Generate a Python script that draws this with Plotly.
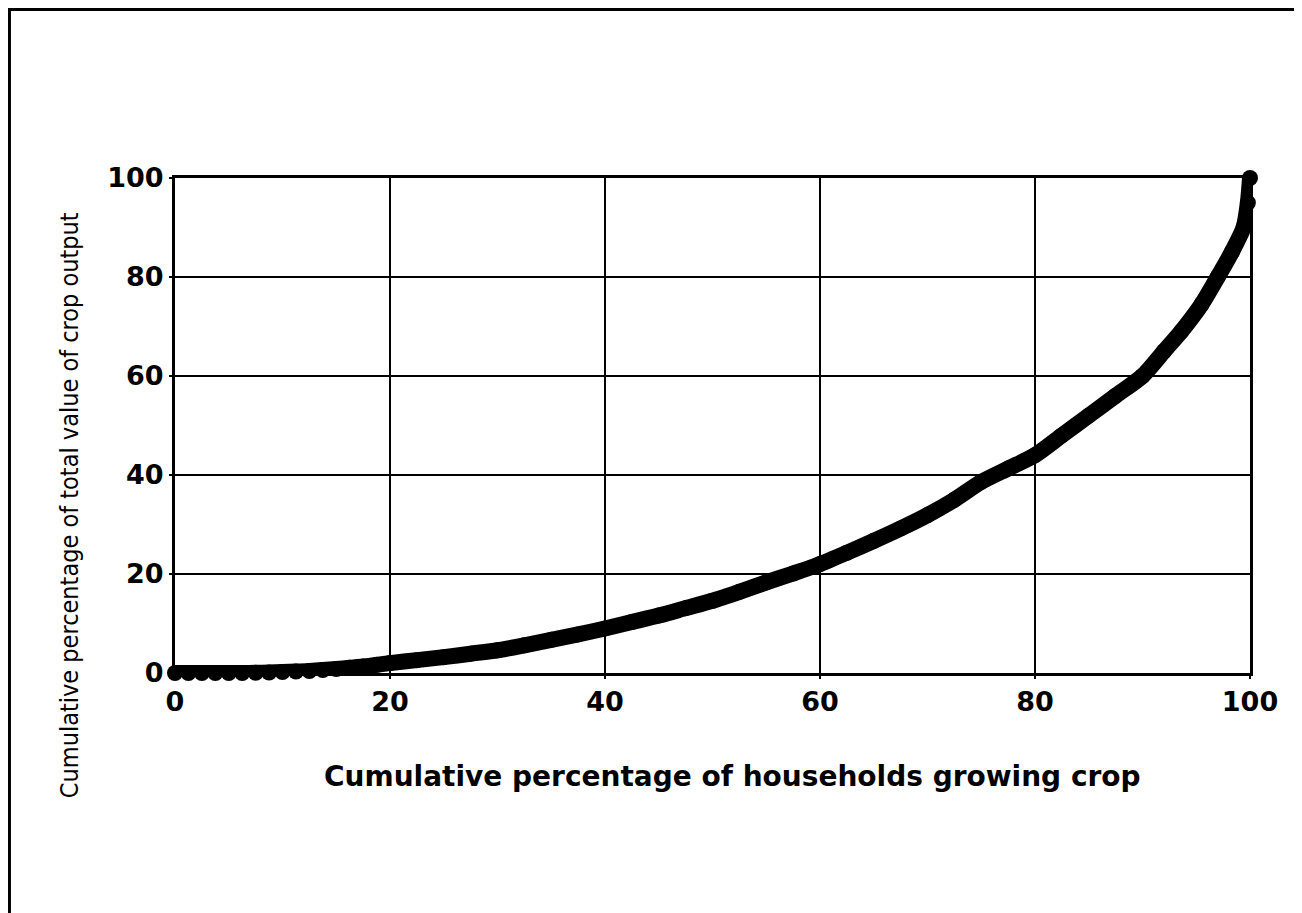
import plotly.graph_objects as go

# Lorenz curve: cumulative % of households vs cumulative % of crop output value
households_pct = [0, 1.25, 2.5, 3.75, 5, 6.25, 7.5, 8.75, 10, 11.25, 12.5,
                  13.75, 15, 16.25, 17.5, 18.75, 20, 22.5, 25, 27.5, 30,
                  32.5, 35, 37.5, 40, 42.5, 45, 47.5, 50, 52.5, 55, 57.5, 60,
                  62.5, 65, 67.5, 70, 72.5, 75, 77.5, 80, 82.5, 85, 87.5, 90,
                  92, 93.6, 95.5, 97, 98.3, 99.4, 99.8, 100]
output_pct = [0, 0, 0, 0, 0, 0, 0.05, 0.1, 0.2, 0.3, 0.4,
              0.6, 0.8, 1.05, 1.3, 1.65, 2.0, 2.6, 3.2, 3.9, 4.6,
              5.6, 6.7, 7.8, 9.0, 10.3, 11.6, 13.1, 14.6, 16.4, 18.3, 20.1, 22.0,
              24.3, 26.7, 29.2, 31.9, 35.0, 38.6, 41.3, 44.0, 48.0, 52.0, 56.0, 60.0,
              65.0, 69.0, 74.5, 80.0, 85.0, 90.0, 95.0, 100.0]

tick_vals = [0, 20, 40, 60, 80, 100]
tick_text = ["0", "20", "40", "60", "80", "100"]

x_title = "Cumulative percentage of households growing crop"
y_title = "Cumulative percentage of total value of crop output"

fig = go.Figure()
fig.add_trace(go.Scatter(
    x=households_pct,
    y=output_pct,
    mode="lines+markers",
    line=dict(color="black", width=16, shape="spline", smoothing=0.7),
    marker=dict(color="black", size=16, symbol="circle"),
    cliponaxis=False,
    showlegend=False,
))

axis_common = dict(
    range=[0, 100],
    tickvals=tick_vals,
    ticktext=tick_text,
    showgrid=True,
    gridcolor="black",
    gridwidth=2,
    showline=True,
    linecolor="black",
    linewidth=3,
    mirror=True,
    ticks="outside",
    ticklen=3,
    tickwidth=2,
    tickcolor="black",
    zeroline=False,
    tickfont=dict(family="DejaVu Sans", size=27, color="black", weight="bold"),
)

fig.update_xaxes(**axis_common)
fig.update_yaxes(**axis_common)

fig.update_layout(
    width=1302,
    height=913,
    margin=dict(l=167, r=60, t=170, b=248),
    paper_bgcolor="white",
    plot_bgcolor="white",
    annotations=[
        dict(text=x_title, xref="paper", yref="paper", x=0.519, y=-0.21,
             showarrow=False, xanchor="center", yanchor="middle",
             font=dict(family="DejaVu Sans", size=28, color="black", weight="bold")),
        dict(text=y_title, xref="paper", yref="paper", x=-0.0986, y=0.339,
             showarrow=False, xanchor="center", yanchor="middle", textangle=-90,
             font=dict(family="Liberation Sans Narrow, DejaVu Sans Condensed",
                       size=25, color="black")),
    ],
    shapes=[
        dict(type="rect", xref="paper", yref="paper",
             x0=-0.154, x1=1.0465, y0=-0.52, y1=1.3404,
             line=dict(color="black", width=3), layer="below"),
    ],
)

fig.write_html("out.html")
